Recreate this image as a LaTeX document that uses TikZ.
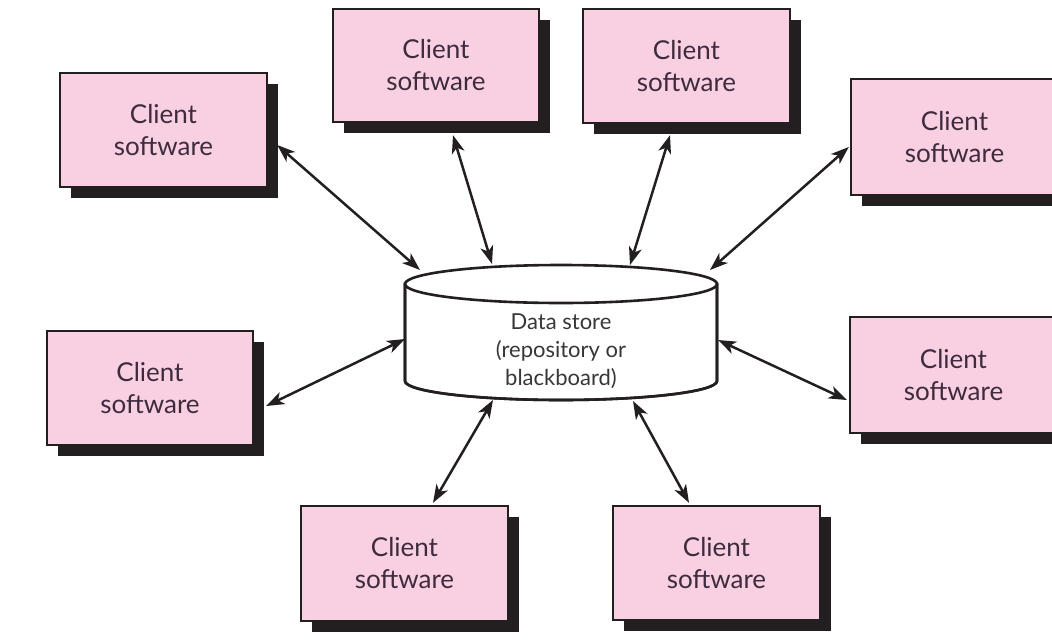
\documentclass[tikz,border=0pt]{standalone}
\usepackage{fontspec}
\setmainfont{Lato}
\usetikzlibrary{arrows.meta,shadows,calc}
\definecolor{boxpink}{RGB}{248,208,226}
\definecolor{shadowc}{RGB}{35,31,32}
\definecolor{boxtext}{RGB}{62,44,62}
\definecolor{dstext}{RGB}{55,55,55}
\tikzset{
  clientbox/.style={draw=shadowc, line width=2.4pt, fill=boxpink, text=boxtext,
    align=center, inner sep=0pt,
    font=\fontsize{26}{32}\selectfont,
    drop shadow={shadow xshift=11pt, shadow yshift=-11pt, fill=shadowc, opacity=1}},
  link/.style={line width=2.5pt, draw=shadowc,
    {Stealth[length=18pt,width=13pt,inset=5pt]}-{Stealth[length=18pt,width=13pt,inset=5pt]}},
  cyl/.style={line width=2.6pt, draw=shadowc, fill=white}
}
\begin{document}
\begin{tikzpicture}[x=1pt,y=-1pt]
\path[use as bounding box] (0,0) rectangle (1052,643);
\clip (0,0) rectangle (1052,643);

% data store cylinder
\path[cyl] (405,284) -- (405,381)
  .. controls (405,391.5) and (474.8,400) .. (561,400)
  .. controls (647.2,400) and (717,391.5) .. (717,381)
  -- (717,284) -- cycle;
\draw[cyl] (561,284) ellipse [x radius=156, y radius=19];
\draw[line width=2.6pt, draw=shadowc] (405,284) -- (405,381)
  .. controls (405,391.5) and (474.8,400) .. (561,400)
  .. controls (647.2,400) and (717,391.5) .. (717,381)
  -- (717,284);
\node[text=dstext, align=center, font=\fontsize{22}{28}\selectfont] (ds) at (561,351)
  {Data store\\(repository or\\blackboard)};

% cylinder anchor points
\coordinate (c1) at (420,270);
\coordinate (c2) at (492,264);
\coordinate (c3) at (630,265);
\coordinate (c4) at (710,270);
\coordinate (c5) at (405,339);
\coordinate (c6) at (718,340);
\coordinate (c7) at (493,400);
\coordinate (c8) at (633,401);

% client boxes
\node[clientbox, minimum width=207pt, minimum height=114pt] (b1) at (163.5,130) {Client\\software};
\node[clientbox, minimum width=206pt, minimum height=113pt] (b2) at (436,65.5) {Client\\software};
\node[clientbox, minimum width=207pt, minimum height=114pt] (b3) at (686.5,66) {Client\\software};
\node[clientbox, minimum width=207pt, minimum height=116pt] (b4) at (954.5,137) {Client\\software};
\node[clientbox, minimum width=206pt, minimum height=114pt] (b5) at (150,388) {Client\\software};
\node[clientbox, minimum width=207pt, minimum height=116pt] (b6) at (953.5,375) {Client\\software};
\node[clientbox, minimum width=207pt, minimum height=115pt] (b7) at (404.5,563.5) {Client\\software};
\node[clientbox, minimum width=207pt, minimum height=114pt] (b8) at (716.5,563) {Client\\software};

% connectors
\draw[link] ($(b1.east)+(9,15)$) -- (c1);
\draw[link] ($(b2.south)+(17,12)$) -- (c2);
\draw[link] ($(b3.south)+(-16.5,11)$) -- (c3);
\draw[link] ($(b4.west)+(-1,10)$) -- (c4);
\draw[link] ($(b5.east)+(12,18)$) -- (c5);
\draw[link] ($(b6.west)+(-2,25)$) -- (c6);
\draw[link] ($(b7.north)+(28.5,-2)$) -- (c7);
\draw[link] ($(b8.north)+(-27.5,-2)$) -- (c8);
\end{tikzpicture}
\end{document}
